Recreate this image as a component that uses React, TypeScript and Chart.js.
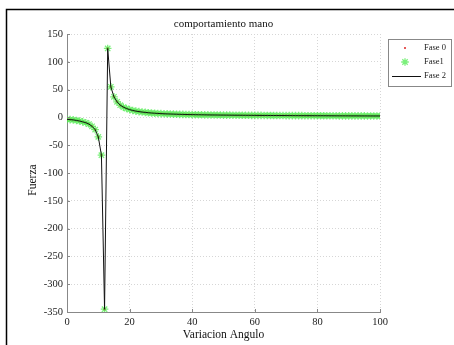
import React, { useEffect, useRef } from "react";
import { Chart, registerables } from "chart.js";

Chart.register(...registerables);

const angulo = [
  0, 1, 2, 3, 4, 5, 6, 7, 8, 9, 10, 11, 12, 13, 14, 15, 16, 17, 18, 19, 20,
  21, 22, 23, 24, 25, 26, 27, 28, 29, 30, 31, 32, 33, 34, 35, 36, 37, 38, 39, 40,
  41, 42, 43, 44, 45, 46, 47, 48, 49, 50, 51, 52, 53, 54, 55, 56, 57, 58, 59, 60,
  61, 62, 63, 64, 65, 66, 67, 68, 69, 70, 71, 72, 73, 74, 75, 76, 77, 78, 79, 80,
  81, 82, 83, 84, 85, 86, 87, 88, 89, 90, 91, 92, 93, 94, 95, 96, 97, 98, 99, 100,
];

const fuerza = [
  -3.5, -4, -4.5, -5.5, -6.5, -8, -9.5, -12, -16, -22, -35, -68, -345, 124, 55, 37, 28, 22, 18.5, 16, 14,
  12.5, 11.3, 10.4, 9.6, 9, 8.4, 7.9, 7.5, 7.1, 6.8, 6.5, 6.3, 6.1, 5.9, 5.7, 5.5, 5.4, 5.2, 5.1, 5.0,
  4.9, 4.8, 4.7, 4.6, 4.5, 4.4, 4.35, 4.3, 4.2, 4.15, 4.1, 4.05, 4.0, 3.95, 3.9, 3.85, 3.8, 3.75, 3.7, 3.65,
  3.6, 3.56, 3.52, 3.48, 3.44, 3.4, 3.37, 3.34, 3.31, 3.28, 3.25, 3.22, 3.19, 3.16, 3.13, 3.1, 3.08, 3.06, 3.04, 3.02,
  3.0, 2.97, 2.94, 2.91, 2.88, 2.85, 2.82, 2.8, 2.78, 2.76, 2.74, 2.72, 2.7, 2.68, 2.66, 2.64, 2.62, 2.6, 2.58, 2.55,
];

const xTicks = [0, 20, 40, 60, 80, 100];
const yTicks = [-350, -300, -250, -200, -150, -100, -50, 0, 50, 100, 150];
const seriesNames = ["Fase 0", "Fase1", "Fase 2"];
const titulo = "comportamiento mano";
const xTitulo = "Variacion Angulo";
const yTitulo = "Fuerza";

const SERIF = "'Liberation Serif', 'DejaVu Serif', serif";
const GREEN = "rgba(80,235,80,0.75)";

function drawStar(ctx: CanvasRenderingContext2D, x: number, y: number, r: number) {
  ctx.beginPath();
  ctx.moveTo(x - r, y);
  ctx.lineTo(x + r, y);
  ctx.moveTo(x, y - r);
  ctx.lineTo(x, y + r);
  const d = r * 0.7071;
  ctx.moveTo(x - d, y - d);
  ctx.lineTo(x + d, y + d);
  ctx.moveTo(x - d, y + d);
  ctx.lineTo(x + d, y - d);
  ctx.stroke();
}

const decorPlugin = {
  id: "decor",
  afterDraw(chart: any) {
    const ctx = chart.ctx as CanvasRenderingContext2D;
    const area = chart.chartArea;
    const xs = chart.scales.x;
    const ys = chart.scales.y;
    ctx.save();
    // outer frame
    ctx.strokeStyle = "#000";
    ctx.lineWidth = 1.5;
    ctx.strokeRect(6.5, 9.5, 600, 500);

    // inward ticks
    ctx.strokeStyle = "#888";
    ctx.lineWidth = 1;
    ctx.beginPath();
    xTicks.forEach((t) => {
      const px = Math.round(xs.getPixelForValue(t)) + 0.5;
      ctx.moveTo(px, area.bottom);
      ctx.lineTo(px, area.bottom - 3);
    });
    yTicks.forEach((t) => {
      const py = Math.round(ys.getPixelForValue(t)) + 0.5;
      ctx.moveTo(area.left, py);
      ctx.lineTo(area.left + 3, py);
    });
    ctx.stroke();

    // titles
    ctx.fillStyle = "#111";
    ctx.textAlign = "center";
    ctx.textBaseline = "middle";
    ctx.font = `11px ${SERIF}`;
    ctx.fillText(titulo, (area.left + area.right) / 2, 24);
    ctx.font = `11.5px ${SERIF}`;
    ctx.fillText(xTitulo, (area.left + area.right) / 2, 335);
    ctx.save();
    ctx.translate(33, 180);
    ctx.rotate(-Math.PI / 2);
    ctx.fillText(yTitulo, 0, 0);
    ctx.restore();

    // legend
    const lx = 388.5, ly = 39.5, lw = 63, lh = 47;
    ctx.fillStyle = "#fff";
    ctx.fillRect(lx, ly, lw, lh);
    ctx.strokeStyle = "#888";
    ctx.lineWidth = 1;
    ctx.strokeRect(lx, ly, lw, lh);
    ctx.font = `8.5px ${SERIF}`;
    ctx.textAlign = "left";
    const rows = [48, 62, 76];
    ctx.fillStyle = "#d22";
    ctx.beginPath();
    ctx.arc(405, rows[0], 1, 0, Math.PI * 2);
    ctx.fill();
    ctx.strokeStyle = GREEN;
    ctx.lineWidth = 1.3;
    drawStar(ctx, 405, rows[1], 3.8);
    ctx.strokeStyle = "#111";
    ctx.lineWidth = 1;
    ctx.beginPath();
    ctx.moveTo(392, rows[2] + 0.5);
    ctx.lineTo(421, rows[2] + 0.5);
    ctx.stroke();
    ctx.fillStyle = "#222";
    seriesNames.forEach((n, i) => ctx.fillText(n, 424, rows[i]));
    ctx.restore();
  },
};

export default function App() {
  const ref = useRef<HTMLCanvasElement | null>(null);
  useEffect(() => {
    if (!ref.current) return;
    const pts = angulo.map((a, i) => ({ x: a, y: fuerza[i] }));
    const chart = new Chart(ref.current, {
      type: "scatter",
      data: {
        datasets: [
          {
            label: seriesNames[2],
            data: pts,
            showLine: true,
            borderColor: "#111",
            borderWidth: 1,
            pointRadius: 0,
            tension: 0,
            order: 0,
          },
          {
            label: seriesNames[1],
            data: pts,
            showLine: false,
            pointStyle: "star",
            pointRadius: 3.8,
            borderColor: GREEN,
            backgroundColor: GREEN,
            pointBorderWidth: 1.3,
            order: 1,
          },
          {
            label: seriesNames[0],
            data: pts,
            showLine: false,
            pointStyle: "circle",
            pointRadius: 1,
            borderColor: "#d22",
            backgroundColor: "#d22",
            order: 2,
          },
        ],
      },
      options: {
        responsive: false,
        animation: false,
        events: [],
        layout: { padding: { left: 0, right: 74, top: 34, bottom: 0 } },
        plugins: { legend: { display: false }, title: { display: false }, tooltip: { enabled: false } },
        scales: {
          x: {
            type: "linear",
            min: 0,
            max: 100,
            afterFit: (s: any) => { s.height = 33; },
            afterBuildTicks: (s: any) => { s.ticks = xTicks.map((v) => ({ value: v })); },
            ticks: { color: "#222", font: { family: SERIF, size: 10.5 }, padding: 4, maxRotation: 0 },
            grid: { color: "#d6d6d6", drawTicks: false, lineWidth: 1 },
            border: { display: true, color: "#888", width: 1, dash: [1, 2] },
          },
          y: {
            type: "linear",
            min: -350,
            max: 150,
            afterFit: (s: any) => { s.width = 67; },
            afterBuildTicks: (s: any) => { s.ticks = yTicks.map((v) => ({ value: v })); },
            ticks: { color: "#222", font: { family: SERIF, size: 10.5 }, padding: 4 },
            grid: { color: "#d6d6d6", drawTicks: false, lineWidth: 1 },
            border: { display: true, color: "#888", width: 1, dash: [1, 2] },
          },
        },
      },
      plugins: [decorPlugin],
    } as any);
    return () => chart.destroy();
  }, []);
  return (
    <div style={{ position: "absolute", left: 0, top: 0, width: 454, height: 345, background: "#fff" }}>
      <canvas ref={ref} width={454} height={345} style={{ display: "block" }} />
    </div>
  );
}
